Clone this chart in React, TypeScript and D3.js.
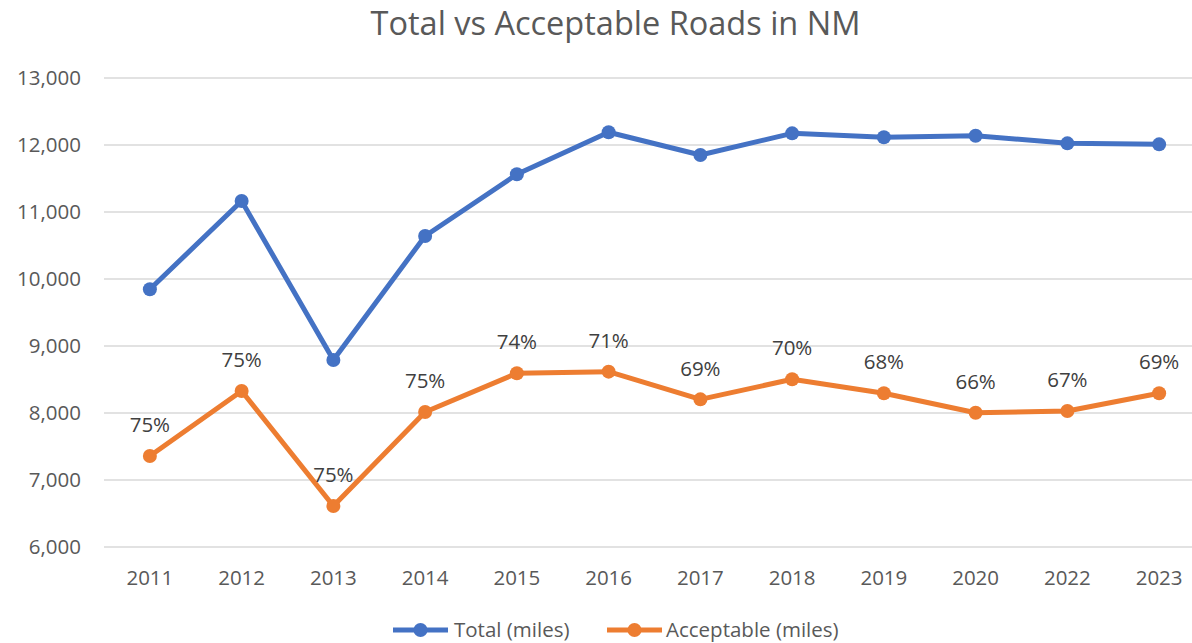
import React from "react";
import * as d3 from "d3";

const years = ["2011", "2012", "2013", "2014", "2015", "2016", "2017", "2018", "2019", "2020", "2022", "2023"];
const totalMiles = [9846, 11164, 8791, 10642, 11563, 12190, 11851, 12174, 12115, 12139, 12025, 12010];
const acceptableMiles = [7358, 8328, 6612, 8015, 8593, 8617, 8204, 8503, 8294, 8004, 8030, 8294];
const pctLabels = ["75%", "75%", "75%", "75%", "74%", "71%", "69%", "70%", "68%", "66%", "67%", "69%"];
const yTicks = [6000, 7000, 8000, 9000, 10000, 11000, 12000, 13000];
const seriesNames = ["Total (miles)", "Acceptable (miles)"];

const W = 1192;
const H = 643;
const FONT = "'Open Sans', 'Liberation Sans', sans-serif";
const BLUE = "#4472C4";
const ORANGE = "#ED7D31";

export default function App() {
  const x = d3.scalePoint<string>().domain(years).range([104, 1205]).padding(0.5);
  const y = d3.scaleLinear().domain([6000, 13000]).range([547, 78]);
  const line = d3
    .line<number>()
    .x((_, i) => x(years[i]) as number)
    .y((d) => y(d));
  const fmt = d3.format(",");

  const series = [
    { name: seriesNames[0], values: totalMiles, color: BLUE },
    { name: seriesNames[1], values: acceptableMiles, color: ORANGE },
  ];

  return (
    <svg
      width={W}
      height={H}
      style={{ position: "absolute", left: 0, top: 0, background: "#fff" }}
      fontFamily={FONT}
    >
      <rect x={0} y={0} width={W} height={H} fill="#fff" />
      <text x={615.5} y={35} textAnchor="middle" fontSize={32.5} fill="#595959">
        Total vs Acceptable Roads in NM
      </text>
      {yTicks.map((t) => (
        <g key={t}>
          <line x1={104} x2={1205} y1={y(t)} y2={y(t)} stroke="#D9D9D9" strokeWidth={1.5} />
          <text x={81} y={y(t)} dy="0.35em" textAnchor="end" fontSize={20.5} fill="#595959">
            {fmt(t)}
          </text>
        </g>
      ))}
      {years.map((yr) => (
        <text key={yr} x={x(yr)} y={578} dy="0.35em" textAnchor="middle" fontSize={20.5} fill="#595959">
          {yr}
        </text>
      ))}
      {series.map((s) => (
        <g key={s.name}>
          <path d={line(s.values) || ""} fill="none" stroke={s.color} strokeWidth={5} strokeLinejoin="round" />
          {s.values.map((v, i) => (
            <circle key={i} cx={x(years[i])} cy={y(v)} r={7} fill={s.color} />
          ))}
        </g>
      ))}
      {acceptableMiles.map((v, i) => (
        <text
          key={i}
          x={x(years[i])}
          y={y(v) - 31}
          dy="0.35em"
          textAnchor="middle"
          fontSize={20.5}
          fill="#404040"
        >
          {pctLabels[i]}
        </text>
      ))}
      <g>
        <line x1={393} x2={448} y1={630} y2={630} stroke={BLUE} strokeWidth={5} />
        <circle cx={420.5} cy={630} r={7} fill={BLUE} />
        <text x={454} y={630} dy="0.35em" fontSize={20.5} fill="#595959">
          {seriesNames[0]}
        </text>
        <line x1={607} x2={662} y1={630} y2={630} stroke={ORANGE} strokeWidth={5} />
        <circle cx={634.5} cy={630} r={7} fill={ORANGE} />
        <text x={666} y={630} dy="0.35em" fontSize={20.5} fill="#595959">
          {seriesNames[1]}
        </text>
      </g>
    </svg>
  );
}
